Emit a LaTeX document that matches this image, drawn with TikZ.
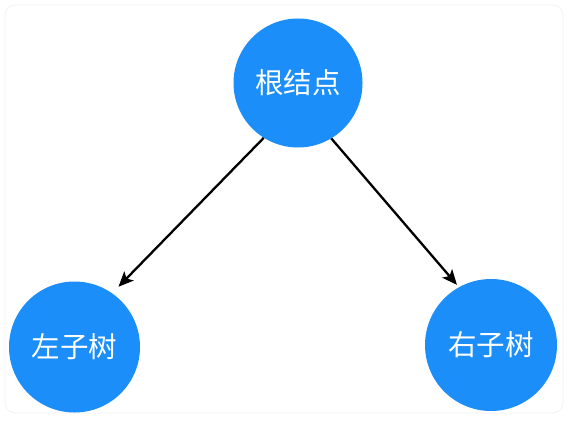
\documentclass[tikz,border=0pt]{standalone}
\usepackage{fontspec}
\newfontfamily\cjk{Noto Sans CJK SC}
\usetikzlibrary{arrows.meta}
\definecolor{nodeblue}{RGB}{28,142,250}
\definecolor{frame}{RGB}{245,245,249}
\tikzset{
  treenode/.style={circle, fill=nodeblue, draw=none, text=white, inner sep=0pt,
    minimum size=#1, font=\cjk\fontsize{28.5}{32}\selectfont},
  link/.style={draw=black, line width=2.3pt, -{Stealth[length=15pt,width=13pt,inset=3.5pt]}}
}
\begin{document}
\begin{tikzpicture}[x=1pt,y=-1pt]
\useasboundingbox[fill=white] (0,0) rectangle (569,420);
\draw[frame, line width=1pt, rounded corners=10pt] (5,5) rectangle (563,413);
\node[treenode=129pt] (root) at (298,83) {根结点};
\node[treenode=131pt] (left) at (74.5,347) {左子树};
\node[treenode=132pt] (right) at (491,345) {右子树};
\draw[link, shorten >=9pt] (root.238) -- (left.55);
\draw[link, shorten >=3pt] (root.301) -- (right.119.5);
\end{tikzpicture}
\end{document}
